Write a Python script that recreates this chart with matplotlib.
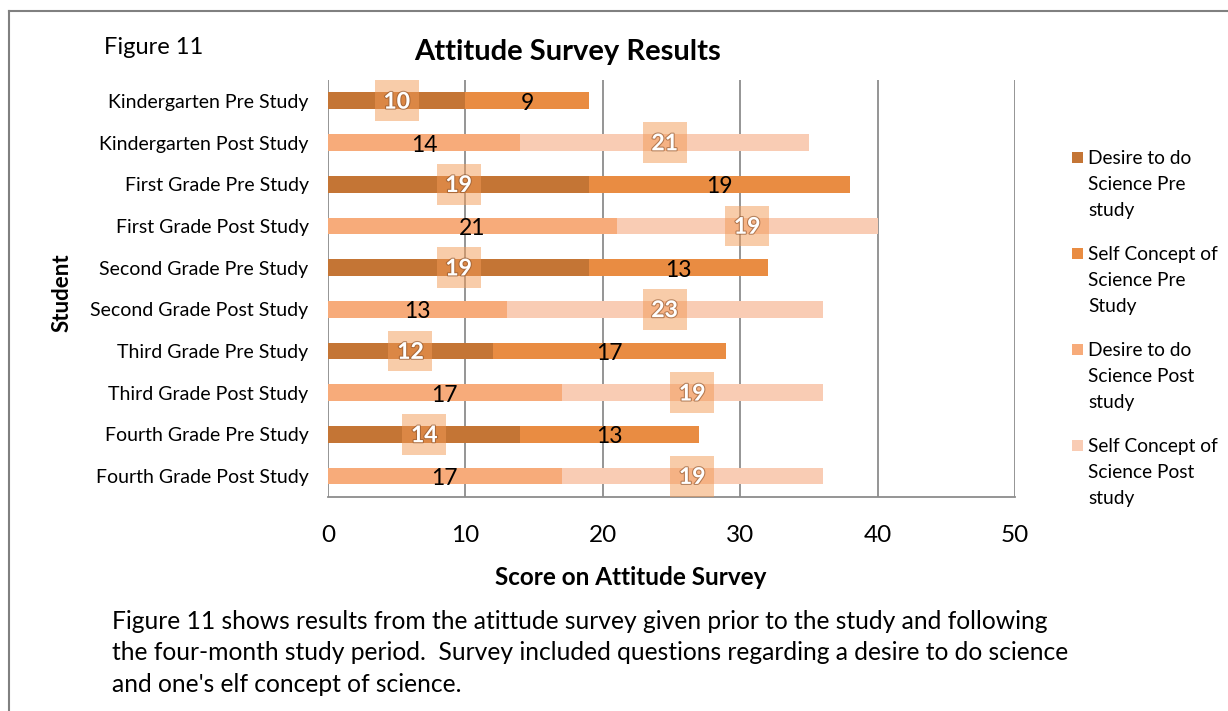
import matplotlib
matplotlib.use("Agg")
import matplotlib.pyplot as plt
import matplotlib.patheffects as pe
from matplotlib.patches import Rectangle
import numpy as np

plt.rcParams['font.family'] = ['Lato', 'DejaVu Sans']

students = ['Kindergarten Pre Study', 'Kindergarten Post Study',
            'First Grade Pre Study', 'First Grade Post Study',
            'Second Grade Pre Study', 'Second Grade Post Study',
            'Third Grade Pre Study', 'Third Grade Post Study',
            'Fourth Grade Pre Study', 'Fourth Grade Post Study']

# pre rows use the first two series, post rows the last two
desire_pre = [10, 19, 19, 12, 14]
self_pre = [9, 19, 13, 17, 13]
desire_post = [14, 21, 13, 17, 17]
self_post = [21, 19, 23, 19, 19]

series_names = ['Desire to do\nScience Pre\nstudy',
                'Self Concept of\nScience Pre\nStudy',
                'Desire to do\nScience Post\nstudy',
                'Self Concept of\nScience Post\nstudy']
colors = ['#C47535', '#E98C42', '#F7AB7A', '#F9CCB4']

W, H = 1228, 711
fig = plt.figure(figsize=(W / 100, H / 100), dpi=100)
ax = fig.add_axes([0.2671, 0.3010, 0.5594, 0.5865])

pre_y = np.arange(0, 10, 2)
post_y = pre_y + 1
h = 0.4

ax.barh(pre_y, desire_pre, height=h, color=colors[0], zorder=2)
ax.barh(pre_y, self_pre, left=desire_pre, height=h, color=colors[1], zorder=2)
ax.barh(post_y, desire_post, height=h, color=colors[2], zorder=2)
ax.barh(post_y, self_post, left=desire_post, height=h, color=colors[3], zorder=2)

glow = [pe.withStroke(linewidth=1.6, foreground=(0.55, 0.33, 0.18, 0.6))]


def boxed_labels(ys, lefts, vals):
    for y, l, v in zip(ys, lefts, vals):
        cx = l + v / 2
        ax.add_patch(Rectangle((cx - 1.6, y - 0.49), 3.2, 0.98, facecolor='#F39A55',
                               alpha=0.5, edgecolor='none', zorder=3))
        ax.text(cx, y + 0.03, str(v), ha='center', va='center', fontsize=16.5,
                fontweight='bold', color='white', path_effects=glow, zorder=4)


def plain_labels(ys, lefts, vals):
    for y, l, v in zip(ys, lefts, vals):
        ax.text(l + v / 2, y + 0.06, str(v), ha='center', va='center',
                fontsize=16.5, color='black', zorder=4)


boxed_labels(pre_y, [0] * 5, desire_pre)
plain_labels(pre_y, desire_pre, self_pre)
plain_labels(post_y, [0] * 5, desire_post)
boxed_labels(post_y, desire_post, self_post)

ax.set_xlim(0, 50)
ax.set_ylim(9.5, -0.5)
ax.set_xticks(range(0, 51, 10))
ax.set_yticks(range(10))
ax.set_yticklabels(students, fontsize=14)
ax.tick_params(axis='x', labelsize=17.5, length=0, pad=20)
ax.tick_params(axis='y', length=0, pad=14)
ax.grid(axis='x', color='#8c8c8c', linewidth=1.3, zorder=0)
for s in ['top', 'right', 'left']:
    ax.spines[s].set_visible(False)
ax.spines['bottom'].set_color('#8c8c8c')
ax.spines['bottom'].set_linewidth(1.3)

ax.set_xlabel('Score on Attitude Survey', fontsize=17.5, fontweight='bold')
ax.xaxis.set_label_coords(0.44, -0.194)
ax.xaxis.label.set_va('center')
ax.set_ylabel('Student', fontsize=16, fontweight='bold')
ax.yaxis.set_label_coords(-0.387, 0.49)
ax.yaxis.label.set_va('center')

fig.text(568 / W, 1 - 52 / H, 'Attitude Survey Results', ha='center', va='center',
         fontsize=21, fontweight='bold')
fig.text(104 / W, 1 - 48 / H, 'Figure 11', ha='left', va='center', fontsize=17)

# legend: square marker beside the first line of each entry
for i, (name, c) in enumerate(zip(series_names, colors)):
    yc = 157 + 96 * i
    fig.add_artist(Rectangle((1072 / W, 1 - (yc + 6) / H), 11 / W, 11 / H,
                             facecolor=c, edgecolor='none', transform=fig.transFigure))
    fig.text(1088 / W, 1 - (yc - 7) / H, name, ha='left', va='top',
             fontsize=13.8, linespacing=1.66)

caption = ("Figure 11 shows results from the atittude survey given prior to the study and following\n"
           "the four-month study period.  Survey included questions regarding a desire to do science\n"
           "and one's elf concept of science.")
fig.text(112 / W, 1 - 653 / H, caption, ha='left', va='center', fontsize=17.7, linespacing=1.45)

# page frame
fig.add_artist(plt.Line2D([9 / W, 9 / W], [0, 1 - 11 / H], color='#808080', linewidth=1.5))
fig.add_artist(plt.Line2D([9 / W, 1.0], [1 - 11 / H, 1 - 11 / H], color='#808080', linewidth=1.5))

fig.savefig('out.png', dpi=100)
